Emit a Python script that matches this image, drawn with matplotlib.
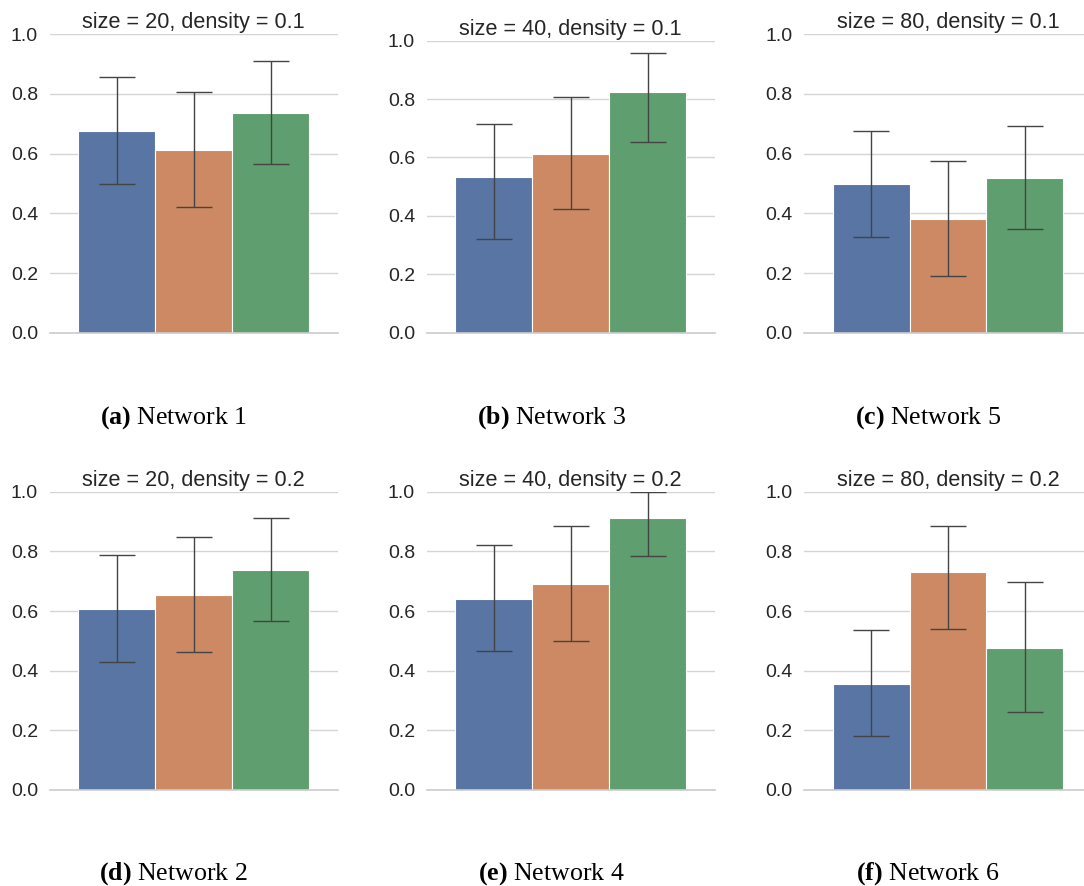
import numpy as np
import matplotlib
matplotlib.use("Agg")
import matplotlib.pyplot as plt

# ---------------- data ----------------
letters = ["a", "b", "c", "d", "e", "f"]
networks = [1, 3, 5, 2, 4, 6]
sizes = [20, 40, 80, 20, 40, 80]
densities = [0.1, 0.1, 0.1, 0.2, 0.2, 0.2]

# mean score for the three methods in each network
means = [
    [0.676, 0.613, 0.736],
    [0.533, 0.612, 0.824],
    [0.497, 0.381, 0.517],
    [0.606, 0.653, 0.737],
    [0.641, 0.691, 0.912],
    [0.355, 0.730, 0.477],
]
# lower / upper ends of the confidence intervals
ci_low = [
    [0.499, 0.421, 0.564],
    [0.320, 0.423, 0.652],
    [0.320, 0.191, 0.347],
    [0.429, 0.463, 0.565],
    [0.465, 0.501, 0.783],
    [0.180, 0.539, 0.261],
]
ci_high = [
    [0.856, 0.808, 0.912],
    [0.715, 0.807, 0.957],
    [0.677, 0.576, 0.694],
    [0.787, 0.847, 0.913],
    [0.822, 0.886, 1.000],
    [0.536, 0.886, 0.696],
]

colors = ["#5975a4", "#cc8963", "#5f9e6e"]

# ---------------- layout (pixels) ----------------
W, H = 1084, 886
# left, right, y of 1.0, y of 0.0
boxes = [
    (49.5, 337.9, 34.3, 332.7),
    (426.5, 714.9, 40.7, 332.7),
    (804.0, 1092.0, 34.3, 332.7),
    (49.5, 337.9, 491.7, 790.0),
    (426.5, 714.9, 491.7, 790.0),
    (804.0, 1092.0, 491.7, 790.0),
]
caption_x = [173.5, 551.0, 928.0, 173.5, 551.0, 928.0]
caption_y = [424.0, 424.0, 424.0, 879.5, 879.5, 879.5]

plt.rcParams["font.family"] = ["Liberation Sans", "DejaVu Sans"]
plt.rcParams["mathtext.fontset"] = "custom"
plt.rcParams["mathtext.rm"] = "Liberation Serif"
plt.rcParams["mathtext.bf"] = "Liberation Serif:bold"

fig = plt.figure(figsize=(W / 100, H / 100), dpi=100)

bw = 0.8 / 3
offsets = np.array([-bw, 0.0, bw])

for k in range(6):
    l, r, y1, y0 = boxes[k]
    ax = fig.add_axes([l / W, 1 - y0 / H, (r - l) / W, (y0 - y1) / H])
    m = np.array(means[k])
    lo = m - np.array(ci_low[k])
    hi = np.array(ci_high[k]) - m

    ax.bar(offsets, m, width=bw, color=colors, edgecolor="white",
           linewidth=0.8, zorder=2)
    ax.errorbar(offsets, m, yerr=[lo, hi], fmt="none", ecolor="#444444",
                elinewidth=1.0, capsize=13, capthick=1.0, zorder=3)

    ax.set_xlim(-0.5, 0.5)
    ax.set_ylim(0, 1.0)
    ax.set_yticks(np.arange(0, 1.01, 0.2))
    ax.set_yticklabels([f"{v:.1f}" for v in np.arange(0, 1.01, 0.2)])
    ax.set_xticks([])
    ax.yaxis.grid(True, color="#d5d5d5", linewidth=1.0, zorder=0)
    ax.set_axisbelow(True)
    ax.tick_params(axis="y", length=0, pad=8.2, labelsize=14,
                   labelcolor="#262626")
    for side in ["left", "right", "top"]:
        ax.spines[side].set_visible(False)
    ax.spines["bottom"].set_color("#cccccc")
    ax.spines["bottom"].set_linewidth(1.2)
    ax.spines["bottom"].set_clip_on(False)

    ax.set_title(f"size = {sizes[k]}, density = {densities[k]}",
                 fontsize=15.6, color="#262626", pad=4.3)

    fig.text(caption_x[k] / W, 1 - caption_y[k] / H,
             rf"$\mathbf{{({letters[k]})}}$ Network {networks[k]}",
             family="Liberation Serif", fontsize=18.6,
             ha="center", va="baseline")

fig.savefig("out.png", dpi=100, facecolor="white")
